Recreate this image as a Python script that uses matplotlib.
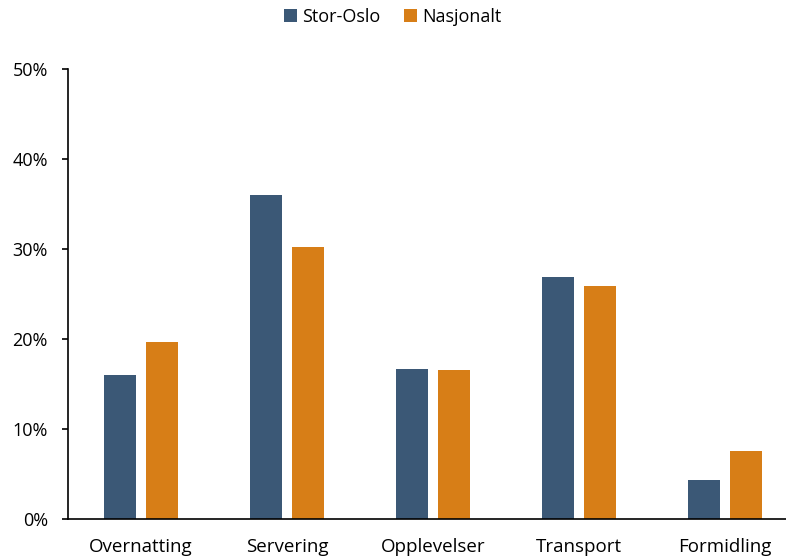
import numpy as np
import matplotlib.pyplot as plt

plt.rcParams["font.family"] = ["Open Sans", "DejaVu Sans"]

categories = ["Overnatting", "Servering", "Opplevelser", "Transport", "Formidling"]
stor_oslo = [16.0, 36.0, 16.7, 26.9, 4.3]
nasjonalt = [19.7, 30.2, 16.6, 25.9, 7.6]

fig = plt.figure(figsize=(7.86, 5.57), dpi=100)
ax = fig.add_axes([0.0865, 0.0682, 1 - 0.0865, 0.876 - 0.0682])

x = np.arange(len(categories))
w = 0.219
ax.bar(x - 0.144, stor_oslo, w, color="#3B5876", label="Stor-Oslo")
ax.bar(x + 0.144, nasjonalt, w, color="#D77E17", label="Nasjonalt")

ax.set_xlim(-0.5, 4.418)
ax.set_ylim(0, 50)
ax.set_yticks(range(0, 51, 10))
ax.set_yticklabels([f"{v}%" for v in range(0, 51, 10)], fontsize=13)
ax.set_xticks(x)
ax.set_xticklabels(categories, fontsize=13.5)
ax.tick_params(axis="x", length=0, pad=14)
ax.tick_params(axis="y", direction="out", length=4.5, width=1.2, pad=10)
for s in ["top", "right"]:
    ax.spines[s].set_visible(False)
ax.spines["left"].set_linewidth(1.2)
ax.spines["bottom"].set_linewidth(1.2)

fig.legend(loc="upper center", bbox_to_anchor=(0.5, 1.015), ncol=2, frameon=False,
           fontsize=13, handlelength=0.7, handleheight=0.7, handletextpad=0.3,
           columnspacing=1.3)

fig.savefig("out.png", dpi=100)
